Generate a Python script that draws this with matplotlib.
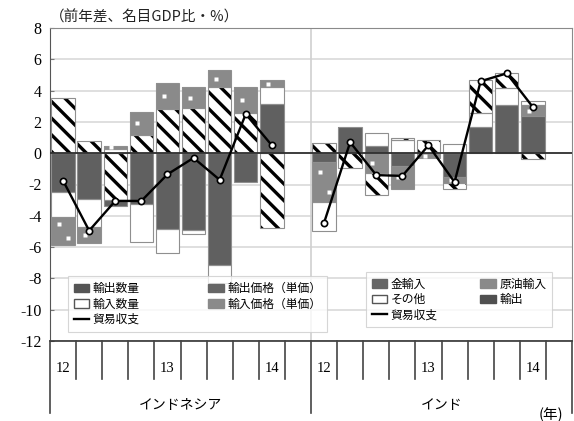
import numpy as np
import matplotlib.pyplot as plt
from matplotlib.patches import Patch
from matplotlib.lines import Line2D

plt.rcParams['font.family'] = ['Noto Sans CJK JP', 'DejaVu Sans']
plt.rcParams['hatch.linewidth'] = 2.4

# ---------------------------------------------------------------------------
# Data (quarterly, 12Q1 - 14Q1, year-on-year change, % of nominal GDP)
# ---------------------------------------------------------------------------

year_labels = ['12', '13', '14']
panel_names = ['インドネシア', 'インド']

# Indonesia
idn_exp_price = [3.5, 0.75, -3.0, 1.15, 2.85, 2.9, 4.2, 2.6, -4.8]
idn_exp_vol   = [-2.45, -2.95, -0.35, -3.25, -4.85, -4.9, -7.15, -1.85, 3.15]
idn_imp_vol   = [-1.6, -1.75, 0.3, -2.4, -1.5, -0.25, -1.15, 0.0, 1.05]
idn_imp_price = [-1.8, -1.05, 0.15, 1.5, 1.65, 1.3, 1.1, 1.6, 0.45]
idn_balance   = [-1.75, -4.95, -3.05, -3.05, -1.35, -0.3, -1.7, 2.5, 0.5]

# India
ind_gold    = [-0.55, 1.65, 0.45, -0.8, 0.0, -1.55, 1.7, 3.1, 2.4]
ind_crude   = [-2.6, 0.0, -1.25, -1.5, -0.3, -0.35, 0.0, 0.0, 0.65]
ind_other   = [-1.8, 0.0, 0.85, 0.85, 0.0, 0.6, 0.9, 1.05, 0.3]
ind_exports = [0.65, -0.95, -1.4, 0.1, 0.85, -0.4, 2.1, 1.0, -0.35]
ind_balance = [-4.45, 0.7, -1.4, -1.45, 0.5, -1.85, 4.6, 5.1, 2.95]

# ---------------------------------------------------------------------------
# Styles
# ---------------------------------------------------------------------------

HATCH = dict(fc='white', hc='black', hatch='\\\\', dots=False)
DARK  = dict(fc='#606060', hc='#606060', hatch=None, dots=False)
WHITE = dict(fc='white', hc='white', hatch=None, dots=False)
DOTS  = dict(fc='#8a8a8a', hc='#8a8a8a', hatch=None, dots=True)
OUTLINE = '#8f8f8f'


def stack_bars(ax, x, series, styles, width=0.9):
    pos = np.zeros(len(x))
    neg = np.zeros(len(x))
    for vals, st in zip(series, styles):
        v = np.asarray(vals, dtype=float)
        m = v != 0
        bottom = np.where(v >= 0, pos, neg)
        ax.bar(x[m], v[m], width, bottom=bottom[m], color=st['fc'],
               hatch=st['hatch'], edgecolor=st['hc'], linewidth=0, zorder=2)
        ax.bar(x[m], v[m], width, bottom=bottom[m], fill=False,
               edgecolor=OUTLINE, linewidth=0.8, zorder=3)
        if st['dots']:
            # sparse white specks inside the segment
            for xi, b, h in zip(x[m], bottom[m], v[m]):
                n = max(1, int(round(abs(h) / 1.2)))
                for k in range(n):
                    dx = -0.15 if k % 2 == 0 else 0.18
                    ax.plot(xi + dx, b + h * (k + 0.5) / n, 's', ms=2.3,
                            mfc='white', mec='none', zorder=3)
        pos = pos + np.where(v > 0, v, 0)
        neg = neg + np.where(v < 0, v, 0)


def balance_line(ax, x, vals):
    ax.plot(x, vals, color='black', lw=1.7, marker='o', ms=4.5,
            mfc='white', mec='black', mew=1.2, zorder=6)


# ---------------------------------------------------------------------------
# Figure
# ---------------------------------------------------------------------------

W, H = 574, 421
fig = plt.figure(figsize=(W / 100, H / 100), dpi=100)
ax = fig.add_axes([50 / W, 1 - 341 / H, 522 / W, 313 / H])

x_idn = np.arange(len(idn_balance)) + 0.5
x_ind = np.arange(len(ind_balance)) + 10.5

stack_bars(ax, x_idn, [idn_exp_price, idn_exp_vol, idn_imp_vol, idn_imp_price],
           [HATCH, DARK, WHITE, DOTS])
stack_bars(ax, x_ind, [ind_gold, ind_crude, ind_other, ind_exports],
           [DARK, DOTS, WHITE, HATCH])

balance_line(ax, x_idn, idn_balance)
balance_line(ax, x_ind, ind_balance)

ax.axhline(0, color='#303030', lw=1.3, zorder=4)
ax.axvline(10, color='#d0d0d0', lw=1.2, zorder=1)

ax.set_xlim(0, 20)
ax.set_ylim(-12, 8)
ax.set_xticks([])
ax.set_yticks(range(-12, 9, 2))
ax.set_yticklabels([str(v) for v in range(-12, 9, 2)],
                   family='Liberation Serif', fontsize=11.5)
ax.tick_params(axis='y', direction='in', length=3, color='#777', pad=6)
ax.grid(axis='y', color='#dcdcdc', lw=1.3)
ax.set_axisbelow(True)
for side in ['top', 'right', 'left']:
    ax.spines[side].set_color('#8a8a8a')
ax.spines['left'].set_color('#555')
ax.spines['bottom'].set_color('#333')
ax.spines['bottom'].set_linewidth(1.2)

fig.text(50 / W, 1 - 17 / H, '（前年差、名目GDP比・%）', fontsize=10.5,
         ha='left', va='center', color='#222')

# legends
leg_kw = dict(ncol=2, loc='lower left', fontsize=8.5, frameon=True, fancybox=False,
              edgecolor='#cccccc', handlelength=1.3, handleheight=0.7,
              handletextpad=0.3, labelspacing=0.2, borderpad=0.5)

idn_handles = [Patch(fc='#555555', ec='#555555'),
               Patch(fc='white', ec='#555555'),
               Line2D([], [], color='black', lw=1.7),
               Patch(fc='#666666', ec='#666666'),
               Patch(fc='#8a8a8a', ec='#8a8a8a')]
idn_labels = ['輸出数量', '輸入数量', '貿易収支', '輸出価格（単価）', '輸入価格（単価）']
leg1 = ax.legend(idn_handles, idn_labels, bbox_to_anchor=(0.023, 0.01),
                 columnspacing=5.8, **leg_kw)
leg1.get_frame().set_linewidth(0.8)
ax.add_artist(leg1)

ind_handles = [Patch(fc='#666666', ec='#666666'),
               Patch(fc='white', ec='#555555'),
               Line2D([], [], color='black', lw=1.7),
               Patch(fc='#8a8a8a', ec='#8a8a8a'),
               Patch(fc='#505050', ec='#505050')]
ind_labels = ['金輸入', 'その他', '貿易収支', '原油輸入', '輸出']
leg2 = ax.legend(ind_handles, ind_labels, bbox_to_anchor=(0.594, 0.025),
                 columnspacing=3.6, **leg_kw)
leg2.get_frame().set_linewidth(0.8)

# category axis below the plot
ax2 = fig.add_axes([50 / W, 0, 522 / W, 80 / H])
ax2.set_xlim(0, 20)
ax2.set_ylim(0, 1)
ax2.axis('off')
for k in range(1, 20):
    if k == 10:
        continue
    ax2.plot([k, k], [0.525, 1], color='#444', lw=1.2, clip_on=False)
for k in [0, 10, 20]:
    ax2.plot([k, k], [0.1, 1], color='#444', lw=1.2, clip_on=False)
for p in range(2):
    for i, lab in enumerate(year_labels):
        ax2.text(p * 10 + i * 4 + 0.5, 0.65, lab, ha='center', va='center',
                 family='Liberation Serif', fontsize=10.5)
    ax2.text(p * 10 + 5, 0.2, panel_names[p], ha='center', va='center',
             fontsize=10)
ax2.text(19.2, 0.08, '(年)', ha='center', va='center', fontsize=10.5)

fig.savefig('out.png', dpi=100)
